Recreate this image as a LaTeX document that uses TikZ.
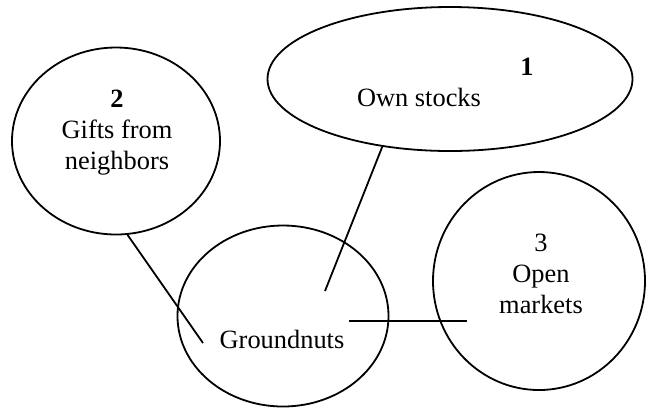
\documentclass[tikz,border=0pt]{standalone}
\usepackage{fontspec}
\setmainfont{Liberation Serif}
\usetikzlibrary{shapes.geometric}

\begin{document}
\begin{tikzpicture}[x=0.5pt, y=-0.5pt, line width=0.9pt,
  every node/.style={font=\fontsize{13.2}{15.5}\selectfont},
  blob/.style={draw, ellipse, inner sep=0pt},
  lbl/.style={anchor=base, inner sep=0pt, align=center}]
\useasboundingbox (0,0) rectangle (646,409);
% sources and the crop
\node[blob, minimum width=182.5pt, minimum height=72pt] (own) at (450,79) {};
\node[blob, minimum width=104pt, minimum height=93.5pt] (gifts) at (116,141) {};
\node[blob, minimum width=105.5pt, minimum height=90.5pt] (gnut) at (283,316) {};
\node[blob, minimum width=106pt, minimum height=109pt] (mkt) at (539,281) {};
% texts (base = last line)
\node[lbl] (one) at (527,75) {\textbf{1}};
\node[lbl] (owntxt) at (419,106) {Own stocks};
\node[lbl] (giftstxt) at (117,169) {\textbf{2}\\Gifts from\\neighbors};
\node[lbl] (gnuttxt) at (282,348) {Groundnuts};
\node[lbl] (mkttxt) at (541,313) {3\\Open\\markets};
% links
\coordinate (ownend) at (325,291);
\coordinate (giftsend) at (203,343);
\coordinate (mktfrom) at (349,321);
\coordinate (mktend) at (467,321);
\draw (own.225) -- (ownend);
\draw (gifts.277) -- (giftsend);
\draw (mktfrom) -- (mktend);
\end{tikzpicture}
\end{document}
